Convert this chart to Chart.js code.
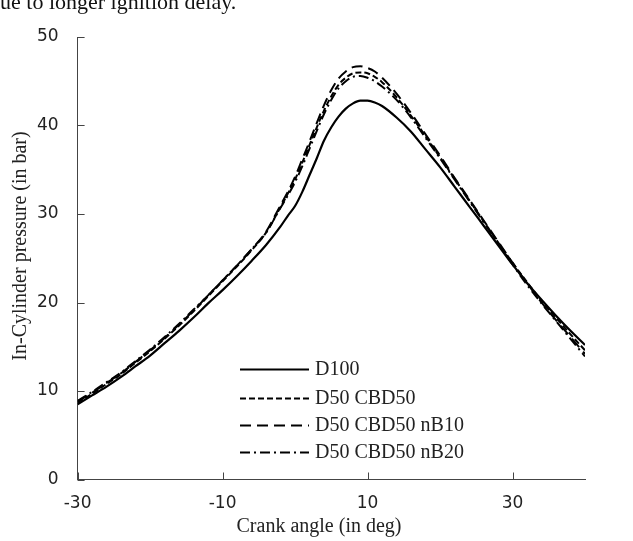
<!DOCTYPE html>
<html>
<head>
<meta charset="utf-8">
<title>In-Cylinder pressure</title>
<script src="https://cdn.jsdelivr.net/npm/chart.js@4.4.1/dist/chart.umd.min.js"></script>
<style>
html, body { margin: 0; padding: 0; background: #fff; }
#wrap { position: relative; width: 633px; height: 541px; }
</style>
</head>
<body>
<div id="wrap"><canvas id="pressureChart"></canvas></div>
<script>
// Crank angle (deg)
const crankAngle = [-30,-28,-26,-24,-22,-20,-18,-16,-14,-12,-10,-8,-6,-4,-2,
  -1,0,1,2,3,4,5,6,7,8,9,10,11,12,
  14,16,18,20,22,24,26,28,30,32,34,36,38,40];

// In-cylinder pressure (bar)
const d100 = [8.5,9.5,10.5,11.6,12.8,14.0,15.4,16.8,18.3,19.9,21.4,23.0,24.7,26.5,28.6,
  29.8,30.9,32.5,34.4,36.3,38.3,39.8,41.0,41.9,42.5,42.8,42.8,42.6,42.2,
  40.9,39.3,37.3,35.3,33.1,30.9,28.7,26.5,24.3,22.2,20.3,18.5,16.8,15.2];
const d50cbd50 = [8.7,9.7,10.8,11.9,13.2,14.5,15.9,17.4,19.0,20.7,22.4,24.1,25.9,27.9,30.8,
  32.3,33.9,35.8,37.8,39.8,41.7,43.3,44.6,45.4,45.9,46.0,45.9,45.5,44.9,
  43.2,41.1,38.8,36.4,34.0,31.6,29.2,26.8,24.5,22.3,20.2,18.3,16.4,14.6];
const d50nb10 = [8.8,9.8,10.9,12.0,13.3,14.6,16.0,17.5,19.1,20.8,22.5,24.2,26.0,28.0,31.0,
  32.5,34.2,36.2,38.2,40.3,42.3,44.0,45.3,46.1,46.6,46.7,46.5,46.1,45.4,
  43.6,41.4,39.0,36.6,34.1,31.7,29.3,26.9,24.5,22.2,20.0,18.0,16.1,14.2];
const d50nb20 = [8.9,9.9,11.0,12.1,13.4,14.7,16.1,17.6,19.2,20.8,22.5,24.2,26.0,27.9,30.7,
  32.1,33.6,35.4,37.4,39.4,41.3,42.9,44.2,45.0,45.5,45.6,45.4,45.0,44.4,
  42.9,40.9,38.6,36.3,33.9,31.5,29.1,26.7,24.3,22.0,19.9,17.9,15.9,13.9];

const seriesNames = ["D100", "D50 CBD50", "D50 CBD50 nB10", "D50 CBD50 nB20"];
const xTicks = [-30, -10, 10, 30];
const yTicks = [0, 10, 20, 30, 40, 50];
const xTitle = 'Crank angle (in deg)';
const yTitle = 'In-Cylinder pressure (in bar)';

const serif = '"Liberation Serif", "Times New Roman", serif';
const toPoints = arr => arr.map((v, i) => ({x: crankAngle[i], y: v}));

// tick marks pointing into the plot
const insideTicks = {
  id: 'insideTicks',
  afterDraw(chart) {
    const {ctx, chartArea: a, scales: {x, y}} = chart;
    ctx.save();
    ctx.strokeStyle = '#444';
    ctx.lineWidth = 1;
    ctx.beginPath();
    xTicks.forEach(v => {
      const px = Math.round(x.getPixelForValue(v)) + 0.5;
      ctx.moveTo(px, a.bottom);
      ctx.lineTo(px, a.bottom - 7);
    });
    yTicks.forEach(v => {
      const py = Math.round(y.getPixelForValue(v)) + 0.5;
      ctx.moveTo(a.left, py);
      ctx.lineTo(a.left + 7, py);
    });
    ctx.stroke();
    ctx.restore();
  }
};

// axis titles (the original sits a bit off the plot centre)
const axisTitles = {
  id: 'axisTitles',
  afterDraw(chart) {
    const ctx = chart.ctx;
    ctx.save();
    ctx.fillStyle = '#222';
    ctx.textAlign = 'center';
    ctx.textBaseline = 'middle';
    ctx.font = '20px ' + serif;
    ctx.fillText(xTitle, 319, 527);
    ctx.translate(21, 246);
    ctx.rotate(-Math.PI / 2);
    ctx.fillText(yTitle, 0, 0);
    ctx.restore();
  }
};

// legend inside the plot
const innerLegend = {
  id: 'innerLegend',
  afterDatasetsDraw(chart) {
    const ctx = chart.ctx;
    const rows = [369, 398, 425, 452];
    ctx.save();
    ctx.font = '20px ' + serif;
    ctx.fillStyle = '#222';
    ctx.textBaseline = 'middle';
    chart.data.datasets.forEach((ds, i) => {
      ctx.strokeStyle = '#000';
      ctx.lineWidth = ds.borderWidth;
      ctx.setLineDash(ds.borderDash || []);
      ctx.beginPath();
      ctx.moveTo(240, rows[i] + 0.5);
      ctx.lineTo(309, rows[i] + 0.5);
      ctx.stroke();
      ctx.fillText(ds.label, 315, rows[i] + 1);
    });
    ctx.restore();
  }
};

// cropped caption line from the page above the figure
const pageText = {
  id: 'pageText',
  afterDraw(chart) {
    const ctx = chart.ctx;
    ctx.save();
    ctx.font = '22px ' + serif;
    ctx.fillStyle = '#111';
    ctx.textBaseline = 'alphabetic';
    ctx.fillText('due to longer ignition delay.', -11, 9);
    ctx.restore();
  }
};

const dashes = [[], [6, 3], [11, 6], [10, 4, 2, 4]];
const widths = [2.2, 2, 2, 2];
const tickFont = { family: '"DejaVu Sans", sans-serif', size: 17 };

new Chart(document.getElementById('pressureChart'), {
  type: 'line',
  data: {
    datasets: [d100, d50cbd50, d50nb10, d50nb20].map((arr, i) => ({
      label: seriesNames[i],
      data: toPoints(arr),
      borderColor: '#000',
      borderWidth: widths[i],
      borderDash: dashes[i],
      pointRadius: 0,
      fill: false,
      cubicInterpolationMode: 'monotone'
    }))
  },
  options: {
    responsive: true,
    maintainAspectRatio: false,
    animation: false,
    layout: { padding: { top: 37, right: 48, left: 0, bottom: 0 } },
    plugins: {
      legend: { display: false },
      tooltip: { enabled: false }
    },
    scales: {
      x: {
        type: 'linear',
        min: -30,
        max: 40,
        afterBuildTicks: s => { s.ticks = xTicks.map(v => ({value: v})); },
        afterFit: s => { s.height = 61.5; },
        grid: { drawOnChartArea: false, drawTicks: false },
        border: { color: '#444', width: 1 },
        ticks: { padding: 14, color: '#222', font: tickFont }
      },
      y: {
        min: 0,
        max: 50,
        afterBuildTicks: s => { s.ticks = yTicks.map(v => ({value: v})); },
        afterFit: s => { s.width = 77.6; },
        grid: { drawOnChartArea: false, drawTicks: false },
        border: { color: '#444', width: 1 },
        ticks: { padding: 19, color: '#222', font: tickFont }
      }
    }
  },
  plugins: [insideTicks, axisTitles, innerLegend, pageText]
});
</script>
</body>
</html>
